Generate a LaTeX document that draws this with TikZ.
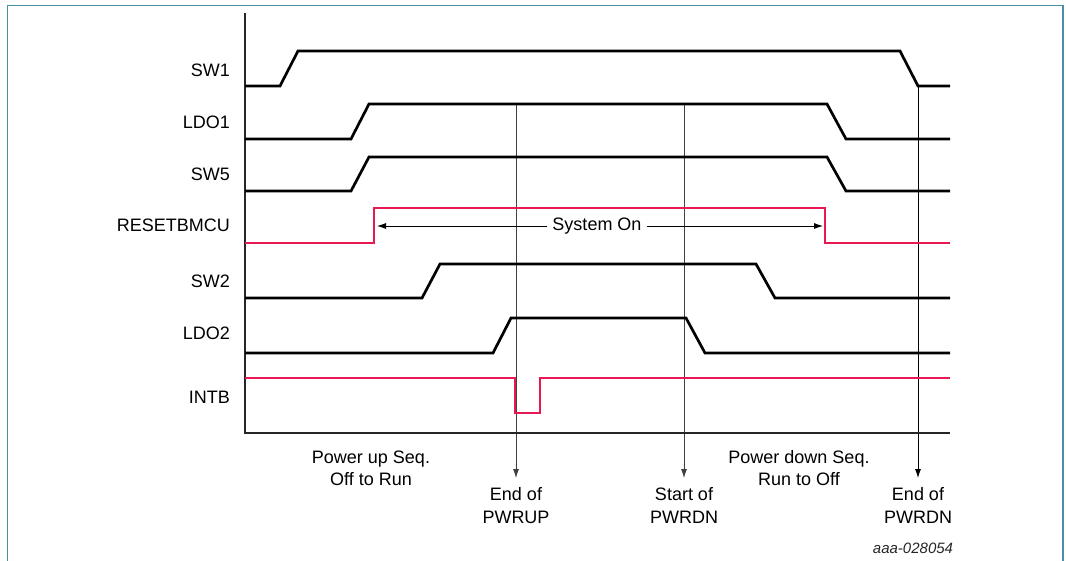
\documentclass[tikz,border=0pt]{standalone}
\usepackage{fontspec}
\setmainfont{Liberation Sans}
\usetikzlibrary{arrows.meta}
\definecolor{sigred}{RGB}{232,24,82}
\definecolor{framecol}{RGB}{70,145,168}
\begin{document}
\begin{tikzpicture}[x=1pt,y=-1pt,
  sig/.style={line width=2.7pt, line join=miter, black},
  redsig/.style={line width=2.7pt, line join=miter, sigred},
  axisline/.style={line width=1.2pt, black!85},
  guide/.style={line width=0.8pt, black!70},
  arr/.style={line width=0.8pt, black, -{Latex[length=9pt,width=6pt]}},
  lbl/.style={anchor=base east, inner sep=0pt, font=\fontsize{18}{22}\selectfont},
  txt/.style={anchor=base, inner sep=0pt, font=\fontsize{18}{22}\selectfont},
  tag/.style={anchor=base, inner sep=0pt, font=\fontsize{15}{18}\selectfont\itshape, black!85}]
\useasboundingbox (0,0) rectangle (1066,561);
% frame
\draw[framecol, line width=1.5pt] (7.5,561) -- (7.5,5.5) -- (1063,5.5) -- (1063,561);
% signal labels
\node[lbl] (lsw1) at (230,77) {SW1};
\node[lbl] (lldo1) at (230,129) {LDO1};
\node[lbl] (lsw5) at (230,181) {SW5};
\node[lbl] (lrst) at (230,232) {RESETBMCU};
\node[lbl] (lsw2) at (230,288) {SW2};
\node[lbl] (lldo2) at (230,340) {LDO2};
\node[lbl] (lintb) at (230,403) {INTB};
% guide lines with arrows
\coordinate (g1t) at (516,104);
\coordinate (g1b) at (516,478);
\coordinate (g2t) at (684,104);
\coordinate (g2b) at (684,478);
\coordinate (g3t) at (918,86);
\coordinate (g3b) at (918,478);
\draw[arr, black!75] (g1t) -- (g1b);
\draw[arr, black!75] (g2t) -- (g2b);
\draw[arr] (g3t) -- (g3b);
% axes
\draw[axisline] (245,13) -- (245,433) -- (950,433);
% signals
\draw[sig] (245,86) -- (280,86) -- (298,51) -- (900,51) -- (918,86) -- (950,86);
\draw[sig] (245,139) -- (351,139) -- (369,104) -- (827,104) -- (846,139) -- (950,139);
\draw[sig] (245,191) -- (351,191) -- (369,157) -- (827,157) -- (846,191) -- (950,191);
\draw[redsig] (245,243) -- (374,243) -- (374,208) -- (825,208) -- (825,243) -- (950,243);
\draw[sig] (245,298) -- (422,298) -- (440,264) -- (756,264) -- (775,298) -- (950,298);
\draw[sig] (245,353) -- (493,353) -- (511,318) -- (686,318) -- (705,353) -- (950,353);
\draw[redsig] (245,378) -- (515,378) -- (515,413) -- (540,413) -- (540,378) -- (950,378);
% System On
\node[font=\fontsize{18}{22}\selectfont, inner xsep=5pt, inner ysep=0pt] (son) at (597,226) {System On};
\coordinate (sonL) at (377,226);
\coordinate (sonR) at (823,226);
\draw[arr] (son.west) -- (sonL);
\draw[arr] (son.east) -- (sonR);
% bottom texts
\node[txt] (pu1) at (371,463) {Power up Seq.};
\node[txt] (pu2) at (371,485) {Off to Run};
\node[txt] (pd1) at (799,463) {Power down Seq.};
\node[txt] (pd2) at (799,485) {Run to Off};
\node[txt] (e1a) at (516,500) {End of};
\node[txt] (e1b) at (516,523) {PWRUP};
\node[txt] (s2a) at (684,500) {Start of};
\node[txt] (s2b) at (684,523) {PWRDN};
\node[txt] (e3a) at (918,500) {End of};
\node[txt] (e3b) at (918,523) {PWRDN};
\node[tag] (code) at (913,553) {aaa-028054};
\end{tikzpicture}
\end{document}
